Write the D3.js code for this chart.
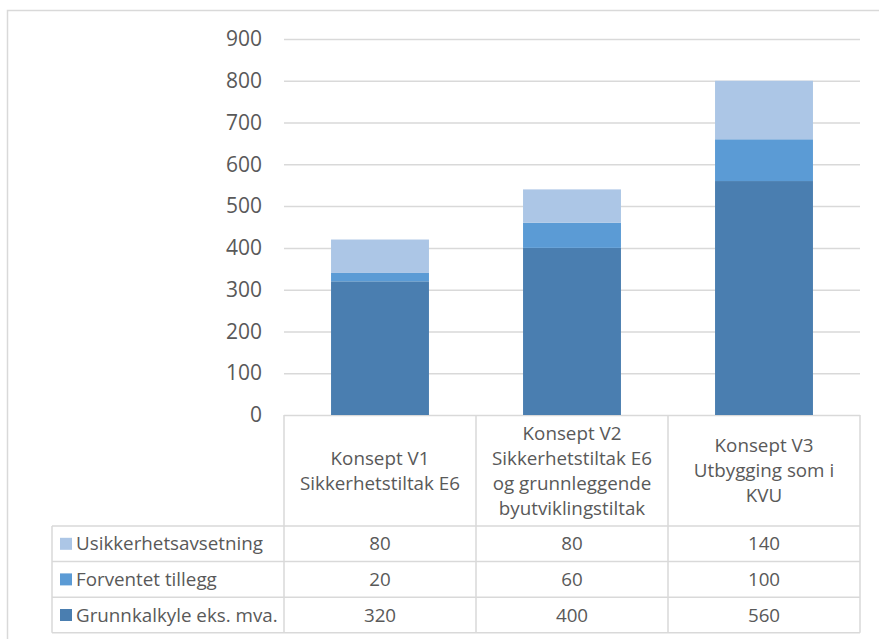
<!DOCTYPE html>
<html>
<head>
<style>
  body {
    margin: 0;
    background-color: #fff;
  }
  svg text {
    font-family: 'Open Sans', sans-serif;
    fill: #595959;
  }
</style>
<script src="https://d3js.org/d3.v7.min.js"></script>
</head>
<body>
<script>
// stacked columns with an Excel-style data table underneath

const categories = [
  ['Konsept V1', 'Sikkerhetstiltak E6'],
  ['Konsept V2', 'Sikkerhetstiltak E6', 'og grunnleggende', 'byutviklingstiltak'],
  ['Konsept V3', 'Utbygging som i', 'KVU'],
];
const seriesNames = ['Grunnkalkyle eks. mva.', 'Forventet tillegg', 'Usikkerhetsavsetning'];
const grunnkalkyle = [320, 400, 560];
const forventet = [20, 60, 100];
const usikkerhet = [80, 80, 140];
const colors = ['#4a7eb0', '#5b9bd5', '#acc6e6'];
const yTicks = [0, 100, 200, 300, 400, 500, 600, 700, 800, 900];

const width = 879, height = 639;
const plot = { left: 284, right: 860, top: 39, bottom: 415 };
const rowH = 35.6;
const headerBottom = 526;
const legendLeft = 52;
const textSize = '18.8px';

const svg = d3.select('body')
  .append('svg')
  .attr('width', width)
  .attr('height', height);

// outer chart border
svg.append('path')
  .attr('d', `M7.5,${height} V10.5 H${width}`)
  .attr('fill', 'none')
  .attr('stroke', '#d9d9d9')
  .attr('stroke-width', 1.5);

const x = d3.scaleBand()
  .domain(d3.range(categories.length))
  .range([plot.left, plot.right])
  .paddingInner(0)
  .paddingOuter(0);

const y = d3.scaleLinear()
  .domain([0, 900])
  .range([plot.bottom, plot.top]);

// gridlines + tick labels
const yAxis = d3.axisLeft(y)
  .tickValues(yTicks)
  .tickSize(-(plot.right - plot.left))
  .tickPadding(22);

const gy = svg.append('g')
  .attr('transform', `translate(${plot.left},0)`)
  .call(yAxis);
gy.select('.domain').remove();
gy.selectAll('.tick line')
  .attr('stroke', '#d9d9d9')
  .attr('stroke-width', 1.5);
gy.selectAll('.tick text')
  .attr('fill', '#595959')
  .style('font-size', '21px')
  .style('font-family', "'Open Sans', sans-serif");

// stack
const table = categories.map((c, i) => ({
  i: i,
  'Grunnkalkyle eks. mva.': grunnkalkyle[i],
  'Forventet tillegg': forventet[i],
  'Usikkerhetsavsetning': usikkerhet[i],
}));
const stacked = d3.stack().keys(seriesNames)(table);

const barW = x.bandwidth() * 0.51;

svg.append('g')
  .selectAll('g')
  .data(stacked)
  .join('g')
  .attr('fill', (d, k) => colors[k])
  .selectAll('rect')
  .data(d => d)
  .join('rect')
  .attr('x', d => x(d.data.i) + (x.bandwidth() - barW) / 2)
  .attr('y', d => y(d[1]))
  .attr('width', barW)
  .attr('height', d => y(d[0]) - y(d[1]));

// data table
const grid = svg.append('g')
  .attr('stroke', '#d9d9d9')
  .attr('stroke-width', 1.5)
  .attr('fill', 'none');

const tableBottom = headerBottom + rowH * 3;

grid.append('path')
  .attr('d', `M${plot.left},${plot.bottom} V${headerBottom} M${plot.right},${plot.bottom} V${tableBottom}`);
x.domain().forEach(i => {
  if (i > 0) {
    grid.append('line')
      .attr('x1', x(i)).attr('x2', x(i))
      .attr('y1', plot.bottom).attr('y2', tableBottom);
  }
});
for (let r = 0; r <= 3; r++) {
  grid.append('line')
    .attr('x1', legendLeft).attr('x2', plot.right)
    .attr('y1', headerBottom + r * rowH).attr('y2', headerBottom + r * rowH);
}
grid.append('line')
  .attr('x1', legendLeft).attr('x2', legendLeft)
  .attr('y1', headerBottom).attr('y2', tableBottom);
grid.append('line')
  .attr('x1', plot.left).attr('x2', plot.left)
  .attr('y1', headerBottom).attr('y2', tableBottom);

// category labels
const lineH = 25;
categories.forEach((lines, i) => {
  const cy = (plot.bottom + headerBottom) / 2;
  const startY = cy - (lines.length - 1) * lineH / 2;
  const t = svg.append('text')
    .attr('text-anchor', 'middle')
    .style('font-size', textSize);
  lines.forEach((l, j) => {
    t.append('tspan')
      .attr('x', x(i) + x.bandwidth() / 2)
      .attr('y', startY + j * lineH)
      .attr('dy', '0.35em')
      .text(l);
  });
});

// table rows: top row is the top of the stack
const rows = [
  { name: 'Usikkerhetsavsetning', values: usikkerhet, color: colors[2] },
  { name: 'Forventet tillegg', values: forventet, color: colors[1] },
  { name: 'Grunnkalkyle eks. mva.', values: grunnkalkyle, color: colors[0] },
];

rows.forEach((row, r) => {
  const cy = headerBottom + r * rowH + rowH / 2;
  svg.append('rect')
    .attr('x', legendLeft + 8)
    .attr('y', cy - 6)
    .attr('width', 12)
    .attr('height', 12)
    .attr('fill', row.color);
  svg.append('text')
    .attr('x', legendLeft + 24)
    .attr('y', cy)
    .attr('dy', '0.35em')
    .style('font-size', textSize)
    .text(row.name);
  row.values.forEach((v, i) => {
    svg.append('text')
      .attr('x', x(i) + x.bandwidth() / 2)
      .attr('y', cy)
      .attr('dy', '0.35em')
      .attr('text-anchor', 'middle')
      .style('font-size', textSize)
      .text(v);
  });
});
</script>
</body>
</html>
